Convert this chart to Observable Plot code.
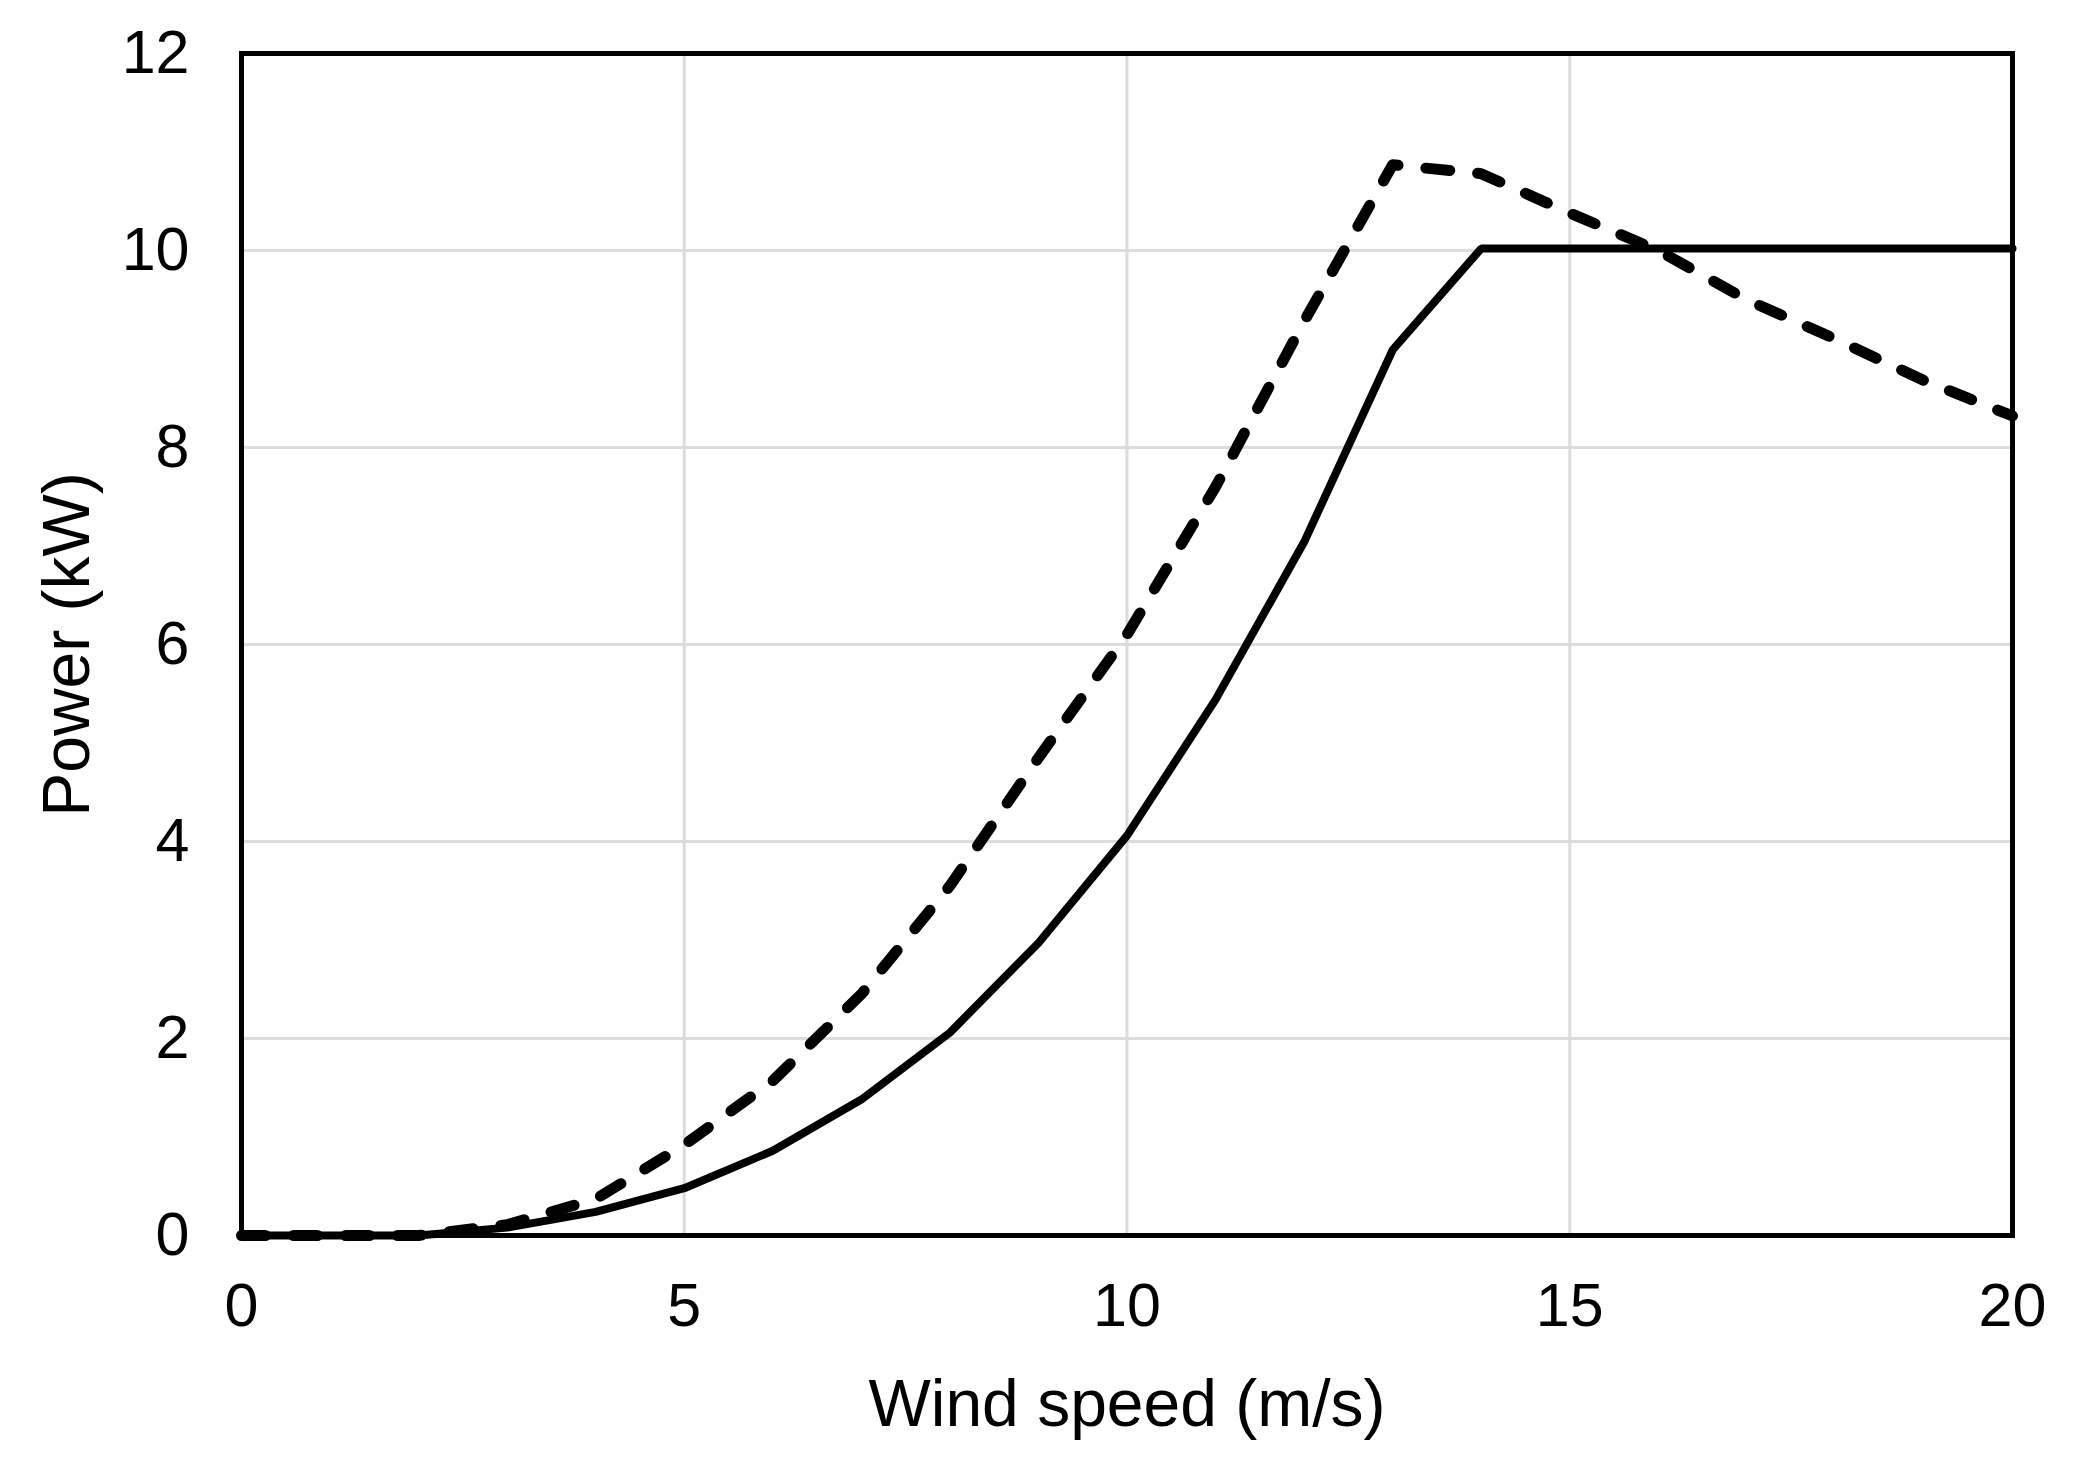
<!DOCTYPE html>
<html>
<head>
<meta charset="utf-8">
<script src="https://cdn.jsdelivr.net/npm/d3@7"></script>
<script src="https://cdn.jsdelivr.net/npm/@observablehq/plot@0.6"></script>
<style>
  html, body { margin: 0; padding: 0; background: #fff; }
</style>
</head>
<body>
<div id="chart"></div>
<script>
const windSpeed = [0,1,2,3,4,5,6,7,8,9,10,11,12,13,14,15,16,17,18,19,20];
const powerSolid = [0,0,0,0.08,0.24,0.48,0.86,1.38,2.06,2.97,4.06,5.44,7.04,8.99,10.02,10.02,10.02,10.02,10.02,10.02,10.02];
const powerDashed = [0,0,0,0.11,0.37,0.92,1.57,2.45,3.55,4.85,6.1,7.6,9.28,10.87,10.78,10.38,10.0,9.5,9.1,8.68,8.32];
const xTicks = [0,5,10,15,20];
const yTicks = [0,2,4,6,8,10,12];
const xLabel = "Wind speed (m/s)";
const yLabel = "Power (kW)";

const solidData = windSpeed.map((w, i) => ({w, p: powerSolid[i]}));
const dashedData = windSpeed.map((w, i) => ({w, p: powerDashed[i]}));

const chart = Plot.plot({
  width: 2073,
  height: 1461,
  marginLeft: 241,
  marginRight: 61,
  marginTop: 53,
  marginBottom: 226,
  style: {fontFamily: "'Liberation Sans', Arial, sans-serif", background: "#fff", color: "#000"},
  x: {domain: [0, 20]},
  y: {domain: [0, 12]},
  marks: [
    Plot.gridX(xTicks, {stroke: "#dcdcdc", strokeOpacity: 1, strokeWidth: 3}),
    Plot.gridY(yTicks, {stroke: "#dcdcdc", strokeOpacity: 1, strokeWidth: 3}),
    Plot.line(solidData, {x: "w", y: "p", stroke: "#000", strokeWidth: 8, strokeLinejoin: "miter"}),
    Plot.line(dashedData, {x: "w", y: "p", stroke: "#000", strokeWidth: 11, strokeDasharray: "24,28", strokeLinecap: "round", strokeLinejoin: "round"}),
    Plot.frame({stroke: "#000", strokeWidth: 5}),
    Plot.axisX(xTicks, {tickSize: 0, tickPadding: 47, fontSize: 61, label: null, fill: "#000", tickFormat: d => String(d)}),
    Plot.axisY(yTicks, {tickSize: 0, tickPadding: 52, fontSize: 61, label: null, fill: "#000", tickFormat: d => String(d)}),
    Plot.text([xLabel], {frameAnchor: "bottom", lineAnchor: "bottom", textAnchor: "middle", dy: 190, fontSize: 66, fill: "#000"}),
    Plot.text([yLabel], {frameAnchor: "left", lineAnchor: "top", textAnchor: "middle", rotate: -90, dx: -199, fontSize: 66, fill: "#000"})
  ]
});
document.getElementById("chart").appendChild(chart);
</script>
</body>
</html>
